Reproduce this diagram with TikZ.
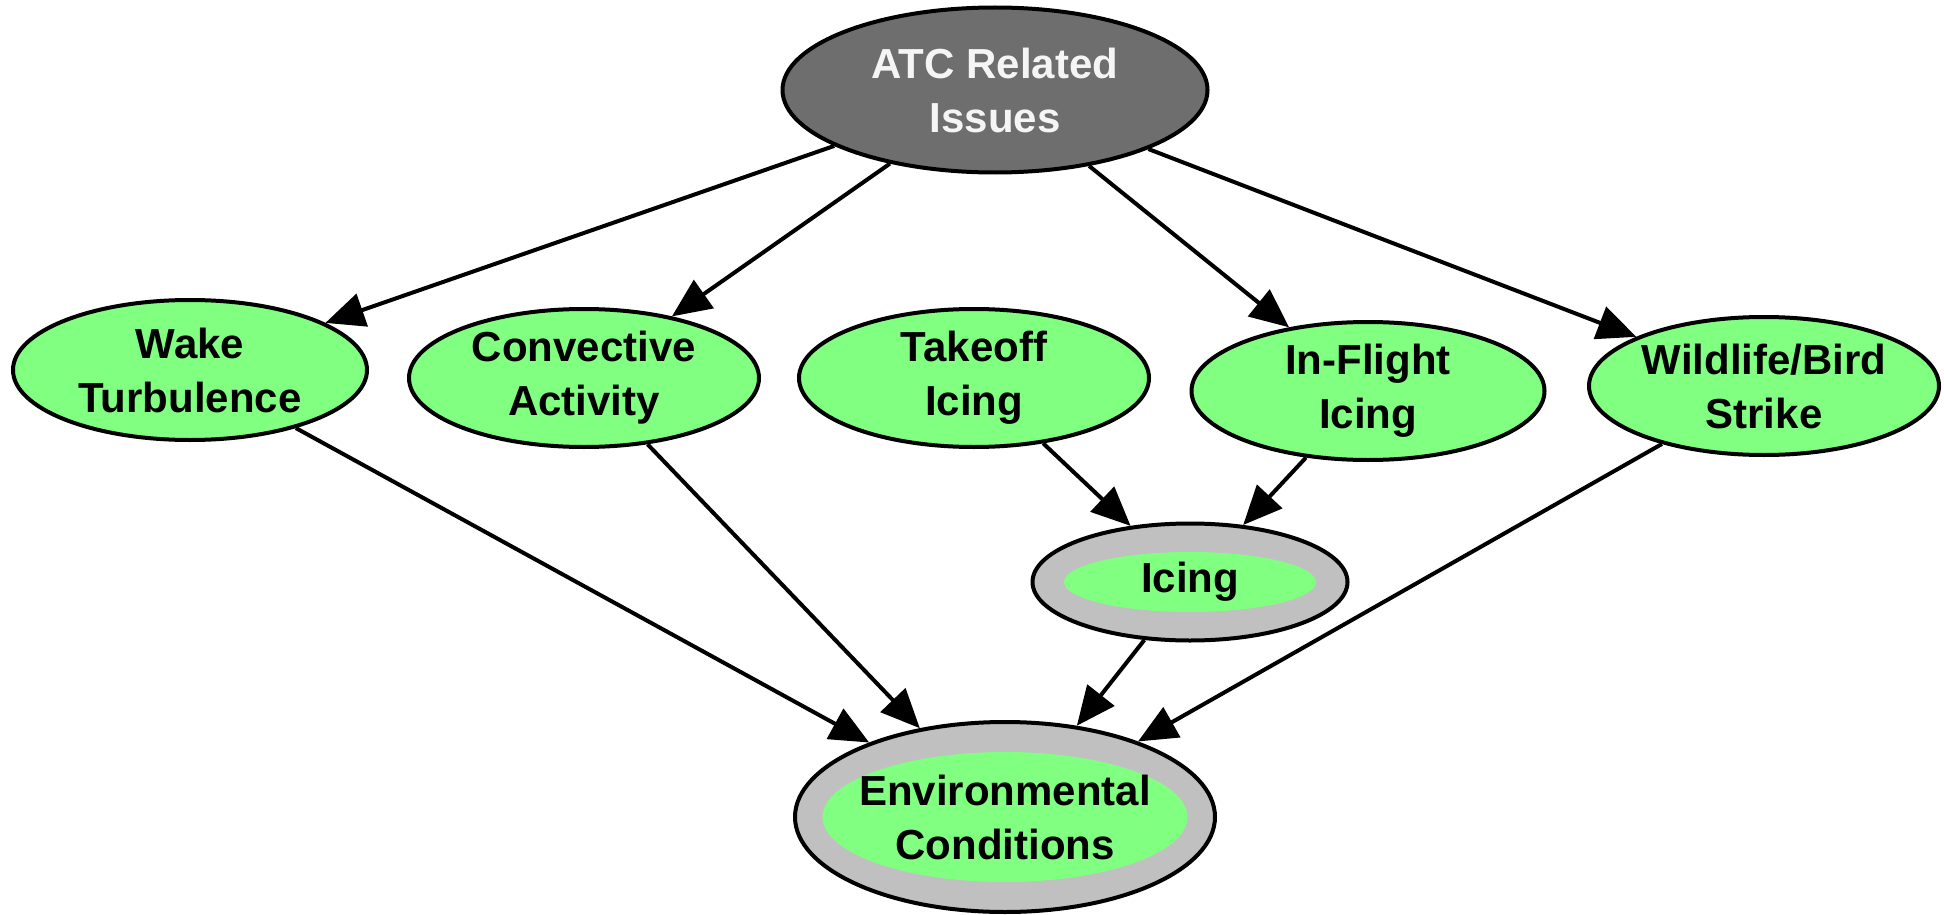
\documentclass[tikz,border=0pt]{standalone}
\usepackage{fontspec}
\setmainfont{Liberation Sans}
\usetikzlibrary{arrows.meta,shapes.geometric}
\definecolor{nodegreen}{RGB}{128,255,128}
\definecolor{atcgray}{RGB}{110,110,110}
\definecolor{subgray}{RGB}{192,192,192}
\begin{document}
\begin{tikzpicture}[x=1pt,y=-1pt,
  base/.style={ellipse, inner xsep=-70pt, inner ysep=-25pt, align=center,
     font=\bfseries\fontsize{42}{54}\selectfont},
  leaf/.style={base, draw=black, line width=4pt, fill=nodegreen},
  topnode/.style={base, draw=black, line width=4pt, fill=atcgray, text={rgb,255:red,245;green,245;blue,245}},
  outerring/.style={base, draw=black, line width=4pt, fill=subgray},
  innerfill/.style={base, fill=nodegreen},
  arc/.style={draw=black, line width=4pt, -{Triangle[length=39pt,width=34pt]}}
]
\useasboundingbox (0,0) rectangle (1944,915);
\fill[white] (0,0) rectangle (1944,915);

\node[topnode, minimum width=425pt, minimum height=165pt] (atc) at (995,90) {ATC Related\\Issues};

\node[leaf, minimum width=354pt, minimum height=140pt] (wake) at (190,370) {Wake\\Turbulence};
\node[leaf, minimum width=350pt, minimum height=138pt] (conv) at (584,378) {Convective\\Activity};
\node[leaf, minimum width=350pt, minimum height=138pt] (take) at (974,378) {Takeoff\\Icing};
\node[leaf, minimum width=353pt, minimum height=138pt] (infl) at (1368,391) {In-Flight\\Icing};
\node[leaf, minimum width=350pt, minimum height=138pt] (wild) at (1764,386) {Wildlife/Bird\\Strike};

\node[outerring, minimum width=315pt, minimum height=117pt] (icing) at (1190,582) {};
\node[innerfill, minimum width=252pt, minimum height=60pt] (icingin) at (1190,582) {Icing};

\node[outerring, minimum width=420pt, minimum height=190pt] (env) at (1005,817) {};
\node[innerfill, minimum width=365pt, minimum height=130pt] (envin) at (1005,817) {Environmental\\Conditions};

\draw[arc] (atc) -- (wake);
\draw[arc] (atc) -- (conv);
\draw[arc] (atc) -- (infl);
\draw[arc] (atc) -- (wild);
\draw[arc] (take) -- (icing);
\draw[arc] (infl) -- (icing);
\draw[arc] (wake) -- (env);
\draw[arc] (conv) -- (env);
\draw[arc] (icing) -- (env);
\draw[arc] (wild) -- (env);
\end{tikzpicture}
\end{document}
